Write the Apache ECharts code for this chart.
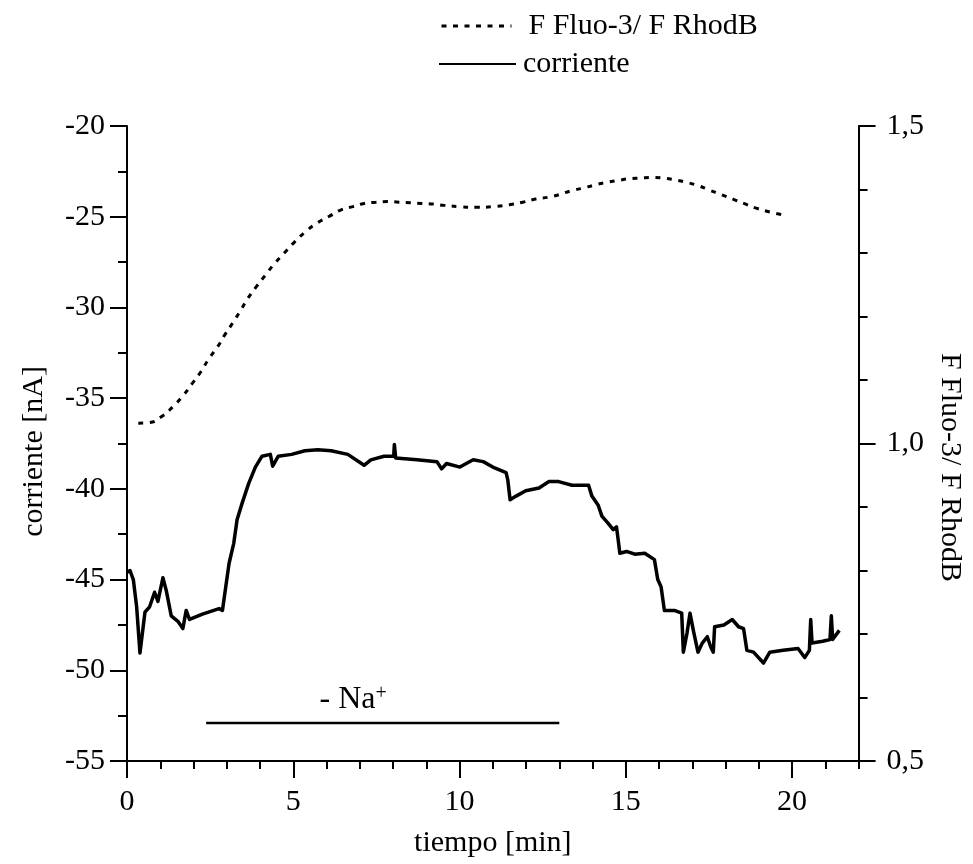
<!DOCTYPE html>
<html><head><meta charset="utf-8">
<script src="https://cdn.jsdelivr.net/npm/echarts@6/dist/echarts.min.js"></script>
<style>html,body{margin:0;padding:0;background:#fff}#c{width:973px;height:864px}</style>
</head><body><div id="c"></div>
<script>
// ---- data ----
const currentTime = [0.0,0.09,0.19,0.29,0.39,0.54,0.68,0.83,0.93,1.08,1.18,1.33,1.53,1.68,1.78,1.88,2.27,2.77,2.87,2.97,3.07,3.21,3.31,3.46,3.66,3.86,4.06,4.31,4.38,4.55,4.95,5.35,5.74,6.14,6.64,7.13,7.33,7.73,8.02,8.04,8.08,8.72,9.32,9.46,9.61,10.01,10.41,10.71,11.0,11.4,11.45,11.52,11.7,11.99,12.39,12.69,12.98,13.38,13.88,13.98,14.17,14.28,14.47,14.62,14.72,14.77,14.82,15.02,15.27,15.57,15.86,15.96,16.06,16.16,16.46,16.68,16.73,16.84,16.93,17.03,17.17,17.3,17.45,17.55,17.63,17.67,17.95,18.2,18.39,18.54,18.64,18.84,19.14,19.33,19.73,20.18,20.38,20.52,20.56,20.6,20.92,21.14,21.18,21.22,21.42];
const currentValues = [-44.6,-44.5,-45.0,-46.5,-49.05,-46.8,-46.5,-45.7,-46.2,-44.9,-45.6,-47.0,-47.3,-47.7,-46.7,-47.2,-46.9,-46.6,-46.7,-45.4,-44.1,-43.0,-41.7,-40.8,-39.7,-38.8,-38.2,-38.1,-38.75,-38.2,-38.1,-37.9,-37.85,-37.9,-38.1,-38.7,-38.4,-38.2,-38.2,-37.55,-38.3,-38.4,-38.5,-38.9,-38.6,-38.8,-38.4,-38.5,-38.8,-39.1,-39.5,-40.6,-40.4,-40.1,-39.95,-39.6,-39.6,-39.8,-39.8,-40.4,-40.9,-41.5,-41.9,-42.25,-42.1,-42.8,-43.55,-43.45,-43.6,-43.55,-43.9,-45.0,-45.4,-46.7,-46.7,-46.85,-49.0,-47.95,-46.85,-47.8,-49.0,-48.5,-48.15,-48.7,-49.0,-47.6,-47.5,-47.2,-47.6,-47.7,-48.9,-49.0,-49.6,-49.0,-48.9,-48.8,-49.3,-48.9,-47.2,-48.5,-48.4,-48.3,-47.0,-48.3,-47.8];
const fluoTime = [0.34,0.68,1.03,1.38,1.68,1.97,2.22,2.47,2.72,2.94,3.18,3.41,3.64,3.89,4.16,4.43,4.73,5.05,5.40,5.74,6.09,6.44,6.79,7.13,7.48,7.83,8.18,8.53,8.87,9.22,9.54,10.0,10.5,11.0,11.5,11.9,12.29,12.69,13.0,13.36,13.70,14.06,14.40,14.75,15.10,15.45,15.78,16.14,16.48,16.84,17.18,17.52,17.87,18.22,18.55,18.9,19.3,19.73];
const fluoValues = [1.032,1.033,1.042,1.058,1.075,1.095,1.113,1.134,1.152,1.171,1.190,1.209,1.229,1.247,1.265,1.283,1.300,1.318,1.335,1.348,1.358,1.368,1.373,1.378,1.380,1.381,1.380,1.379,1.378,1.377,1.375,1.373,1.372,1.373,1.376,1.380,1.385,1.388,1.392,1.398,1.402,1.407,1.411,1.414,1.417,1.418,1.419,1.418,1.415,1.411,1.406,1.399,1.392,1.385,1.378,1.371,1.365,1.360];
const naSpan = [2.38, 13.0];
const naLevel = -52.9;
const naLabelAt = [6.8, -51.6];
const xMajorTicks = [0, 5, 10, 15, 20];
const seriesNames = ['F Fluo-3/ F RhodB', 'corriente'];

const FONT = "'Liberation Serif','Times New Roman',serif";
const chart = echarts.init(document.getElementById('c'));
const zip = (a, b) => a.map((v, i) => [v, b[i]]);
const lineAx = {show: true, onZero: false, lineStyle: {color: '#000', width: 2}};
const axisCommon = {
  axisLine: lineAx,
  axisTick: {show: true, inside: false, lineStyle: {color: '#000', width: 2}},
  axisLabel: {color: '#000', fontFamily: FONT, fontSize: 30},
  splitLine: {show: false},
  nameTextStyle: {color: '#000', fontFamily: FONT, fontSize: 30}
};
const legendCommon = {
  selectedMode: false, itemHeight: 14,
  itemStyle: {opacity: 0, borderWidth: 0}
};
chart.setOption({
  backgroundColor: '#fff',
  animation: false,
  grid: {left: 127, right: 106, top: 126, bottom: 103, containLabel: false},
  legend: [
    Object.assign({}, legendCommon, {data: [seriesNames[0]], left: 435, top: 6, itemWidth: 70,
     textStyle: {color: '#000', fontFamily: FONT, fontSize: 30, padding: [0, 0, 0, 12]},
     lineStyle: {width: 3, type: [5, 6.5], color: '#000'}}),
    Object.assign({}, legendCommon, {data: [seriesNames[1]], left: 433, top: 44, itemWidth: 77,
     textStyle: {color: '#000', fontFamily: FONT, fontSize: 30, padding: [0, 0, 0, 2]},
     lineStyle: {width: 2, type: 'solid', color: '#000'}})
  ],
  xAxis: [
    Object.assign({}, axisCommon, {
      type: 'value', min: 0, max: 22, interval: 1, position: 'bottom',
      name: 'tiempo [min]', nameLocation: 'middle', nameGap: 67,
      axisTick: {show: true, length: 8, lineStyle: {color: '#000', width: 2}},
      axisLabel: Object.assign({}, axisCommon.axisLabel, {margin: 26,
        formatter: v => (xMajorTicks.indexOf(v) >= 0 ? String(v) : '')})
    }),
    Object.assign({}, axisCommon, {
      type: 'value', min: 0, max: 22, interval: 5, position: 'bottom',
      axisLine: {show: false, onZero: false},
      axisTick: {show: true, length: 17, customValues: xMajorTicks, lineStyle: {color: '#000', width: 2}},
      axisLabel: {show: false}
    })
  ],
  yAxis: [
    Object.assign({}, axisCommon, {
      type: 'value', min: -55, max: -20, interval: 5, position: 'left',
      name: 'corriente [nA]', nameLocation: 'middle', nameGap: 78,
      nameTextStyle: Object.assign({}, axisCommon.nameTextStyle, {padding: [0, 16, 0, 0]}),
      axisTick: {show: true, length: 17, lineStyle: {color: '#000', width: 2}},
      minorTick: {show: true, splitNumber: 2, length: 9, lineStyle: {color: '#000', width: 2}},
      axisLabel: Object.assign({}, axisCommon.axisLabel, {margin: 22})
    }),
    Object.assign({}, axisCommon, {
      type: 'value', min: 0.5, max: 1.5, interval: 0.5, position: 'right',
      name: seriesNames[0], nameLocation: 'middle', nameGap: 74, nameRotate: -90,
      nameTextStyle: Object.assign({}, axisCommon.nameTextStyle, {padding: [0, 0, 0, 48]}),
      axisTick: {show: true, length: 17, lineStyle: {color: '#000', width: 2}},
      minorTick: {show: true, splitNumber: 5, length: 9, lineStyle: {color: '#000', width: 2}},
      axisLabel: Object.assign({}, axisCommon.axisLabel, {margin: 28,
        formatter: v => v.toFixed(1).replace('.', ',')})
    })
  ],
  series: [
    {name: seriesNames[0], type: 'line', xAxisIndex: 0, yAxisIndex: 1, smooth: true, symbol: 'none',
     data: zip(fluoTime, fluoValues), itemStyle: {color: '#000'},
     lineStyle: {color: '#000', width: 3, type: [5, 6.5]}},
    {name: seriesNames[1], type: 'line', xAxisIndex: 0, yAxisIndex: 0, symbol: 'none',
     data: zip(currentTime, currentValues), itemStyle: {color: '#000'},
     lineStyle: {color: '#000', width: 3.5, join: 'round'}},
    {name: 'na', type: 'line', xAxisIndex: 0, yAxisIndex: 0, symbol: 'none',
     data: naSpan.map(t => [t, naLevel]),
     lineStyle: {color: '#000', width: 2.5}},
    {name: 'naLabel', type: 'scatter', xAxisIndex: 0, yAxisIndex: 0, symbolSize: 0,
     itemStyle: {color: '#000', opacity: 1},
     data: [naLabelAt],
     label: {show: true, position: 'inside', color: '#000', textBorderWidth: 0, formatter: '{a|- Na}{b|+}',
       rich: {a: {fontFamily: FONT, fontSize: 32, color: '#000'},
              b: {fontFamily: FONT, fontSize: 20, color: '#000', verticalAlign: 'top'}}}}
  ]
});
</script></body></html>
